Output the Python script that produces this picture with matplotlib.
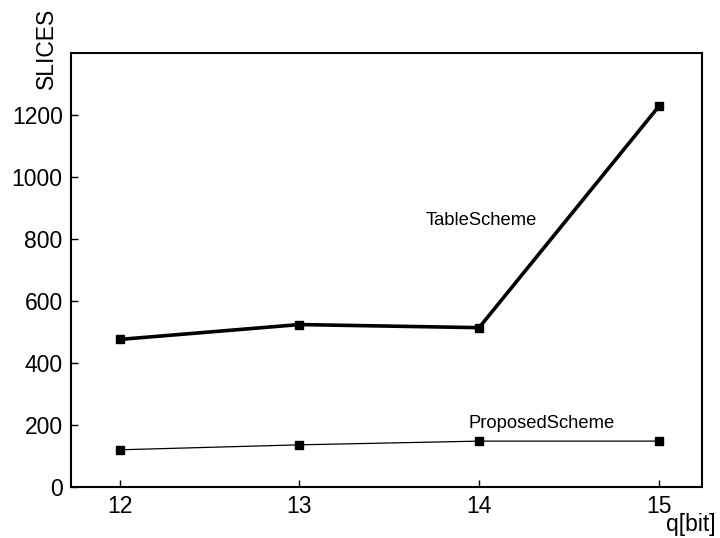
import matplotlib
matplotlib.use("Agg")
import matplotlib.pyplot as plt

plt.rcParams['font.family'] = ['Liberation Sans', 'DejaVu Sans']

q_bits = [12, 13, 14, 15]
table_slices = [476, 524, 514, 1228]
proposed_slices = [120, 136, 148, 148]

fig = plt.figure(figsize=(7.2, 5.38), dpi=100)
ax = fig.add_axes([71 / 720, 51 / 538, 631 / 720, 434 / 538])

ax.plot(q_bits, table_slices, color='black', linewidth=2.6,
        marker='s', markersize=5.5)
ax.plot(q_bits, proposed_slices, color='black', linewidth=0.9,
        marker='s', markersize=5.5)

ax.text(13.7, 861, 'TableScheme', fontsize=13.2, ha='left', va='center')
ax.text(13.94, 205, 'ProposedScheme', fontsize=13.2, ha='left', va='center')

ax.set_xlim(11.73, 15.24)
ax.set_ylim(0, 1400)
ax.set_xticks(q_bits)
ax.set_yticks([0, 200, 400, 600, 800, 1000, 1200])
ax.tick_params(direction='in', length=5, width=1, labelsize=16.5,
               top=False, right=False, pad=6)
for side in ax.spines.values():
    side.set_linewidth(1.5)

fig.text(716 / 720, 1 - 524 / 538, 'q[bit]', fontsize=16.5,
         ha='right', va='center')
fig.text(46 / 720, 1 - 48 / 538, 'SLICES', fontsize=16.5, rotation=90,
         ha='center', va='center')

fig.savefig('out.png', dpi=100)
